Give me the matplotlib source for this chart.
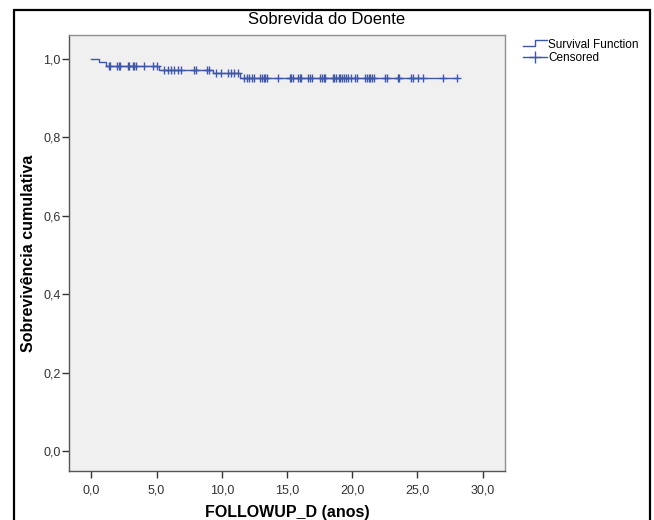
import numpy as np
import matplotlib
matplotlib.use("Agg")
import matplotlib.pyplot as plt
from matplotlib.lines import Line2D
from matplotlib.legend_handler import HandlerBase
from matplotlib.patches import Rectangle

plt.rcParams['font.family'] = ['Liberation Sans', 'DejaVu Sans']

# Kaplan-Meier steps
step_times = [0.0, 0.55, 1.15, 5.2, 9.3, 11.4, 28.0]
step_surv = [1.0, 0.990, 0.981, 0.972, 0.962, 0.951, 0.951]

censored_times = [
    1.33, 1.46, 1.97, 2.09, 2.22, 2.78, 2.92, 3.17, 3.30, 3.43, 4.07, 4.70, 5.04,
    5.6, 5.86, 6.1, 6.37, 6.62, 6.9, 7.9, 8.0, 8.9, 9.05,
    9.57, 9.95, 10.46, 10.72, 10.97, 11.23,
    11.7, 11.9, 12.1, 12.3, 12.5, 12.95, 13.1, 13.2, 13.35, 13.5, 14.3,
    15.2, 15.3, 15.45, 15.85, 16.0, 16.1, 16.6, 16.75, 16.9,
    17.5, 17.65, 17.8, 17.9, 18.5, 18.6, 18.75, 19.0, 19.1, 19.25, 19.4,
    19.5, 19.7, 19.9, 20.2, 20.35, 20.95, 21.1, 21.25, 21.4, 21.5, 21.7,
    22.5, 22.65, 23.5, 23.6, 24.5, 24.65, 25.05, 25.4, 26.95, 28.0,
]

x_ticks = [0, 5, 10, 15, 20, 25, 30]
x_tick_labels = ['0,0', '5,0', '10,0', '15,0', '20,0', '25,0', '30,0']
y_ticks = [0.0, 0.2, 0.4, 0.6, 0.8, 1.0]
y_tick_labels = ['0,0', '0,2', '0,4', '0,6', '0,8', '1,0']

blue = '#3F57AB'


class StepHandler(HandlerBase):
    def create_artists(self, legend, orig_handle, xdescent, ydescent,
                       width, height, fontsize, trans):
        xs = [0, width * 0.5, width * 0.5, width]
        ys = [height * 0.15, height * 0.15, height * 0.95, height * 0.95]
        line = Line2D(xs, ys, color=blue, lw=1, transform=trans)
        return [line]


fig = plt.figure(figsize=(6.54, 5.20), dpi=100)
fig.patches.append(Rectangle((0.0214, -0.02), 0.9725, 1.0008, transform=fig.transFigure,
                             fill=False, edgecolor='black', lw=1.6))

ax = fig.add_axes([0.1055, 0.0942, 0.6667, 0.8385])
ax.set_facecolor('#F0F0F0')

ax.step(step_times, step_surv, where='post', color=blue, lw=1)
idx = np.searchsorted(step_times, censored_times, side='right') - 1
cens_y = np.array(step_surv)[idx]
ax.plot(censored_times, cens_y, linestyle='none', marker='+', color=blue,
        markersize=6, markeredgewidth=1)

ax.set_xlim(-1.72, 31.72)
ax.set_ylim(-0.051, 1.06)
ax.set_xticks(x_ticks)
ax.set_xticklabels(x_tick_labels)
ax.set_yticks(y_ticks)
ax.set_yticklabels(y_tick_labels)
ax.tick_params(axis='both', labelsize=9, direction='out', length=5, width=1,
               colors='#333333')
ax.tick_params(axis='y', pad=1)
ax.tick_params(axis='x', pad=5)

for side in ['top', 'right']:
    ax.spines[side].set_color('#909090')
for side in ['left', 'bottom']:
    ax.spines[side].set_color('#555555')
for s in ax.spines.values():
    s.set_linewidth(1)

ax.set_xlabel('FOLLOWUP_D (anos)', fontsize=11.5, fontweight='bold', labelpad=6)
ax.set_ylabel('Sobrevivência cumulativa', fontsize=11.5, fontweight='bold', labelpad=5)
fig.text(0.5, 0.962, 'Sobrevida do Doente', ha='center', va='center', fontsize=12)

handles = [Line2D([], [], color=blue),
           Line2D([], [], color=blue, lw=1, marker='+', markersize=9, markeredgewidth=1)]
fig.legend(handles, ['Survival Function', 'Censored'], loc='upper left',
           bbox_to_anchor=(0.784, 0.946), frameon=False, fontsize=8.5,
           handlelength=2.0, handletextpad=0.1, labelspacing=0.15,
           handler_map={handles[0]: StepHandler()})

fig.savefig('out.png', dpi=100)
